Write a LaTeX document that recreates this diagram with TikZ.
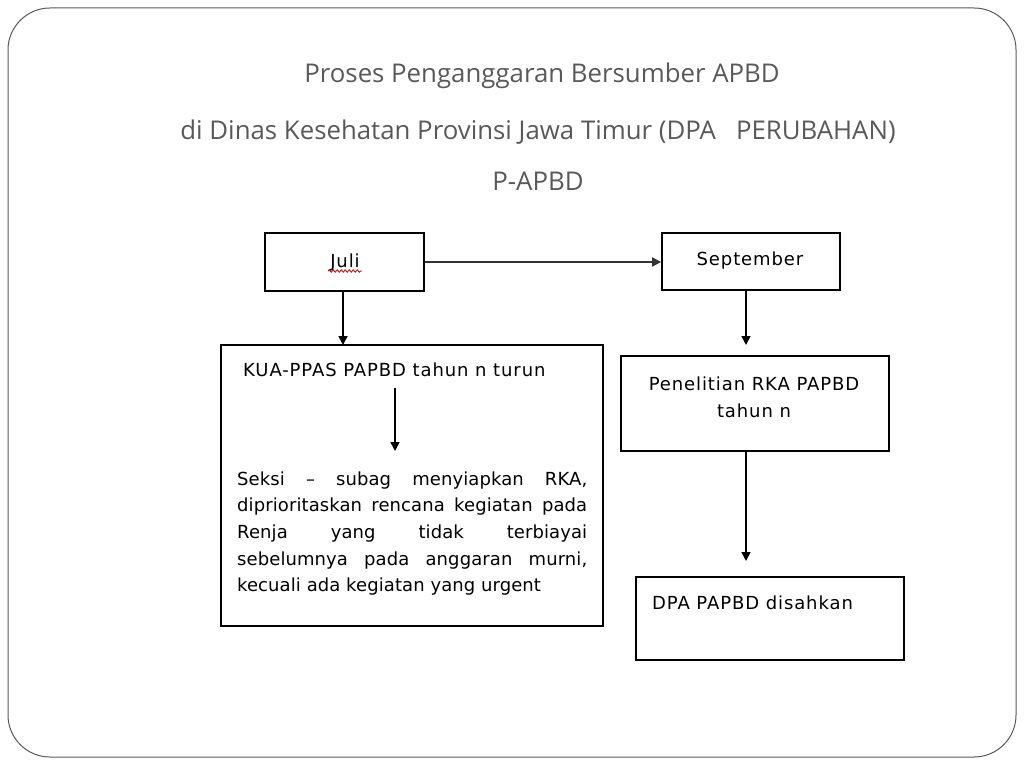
\documentclass[tikz,border=0pt]{standalone}
\usepackage{fontspec}
\setmainfont{DejaVu Sans}[LetterSpace=5]
\newfontfamily\parafont{DejaVu Sans}[LetterSpace=0.5]
\newfontfamily\titlefont{Open Sans}
\usetikzlibrary{arrows.meta,decorations.pathmorphing}
\begin{document}
\begin{tikzpicture}[x=1pt,y=-1pt,
  box/.style={draw=black,line width=1.8pt,inner sep=0pt},
  txt/.style={inner sep=0pt,font=\fontsize{18}{26.7}\selectfont,anchor=base},
  ttl/.style={inner sep=0pt,anchor=base,font=\titlefont\fontsize{25.8}{30}\selectfont,text=black!65},
  arr/.style={line width=1.6pt,-{Triangle[width=9pt,length=9pt]}}]
\useasboundingbox (0,0) rectangle (1024,768);
\draw[black!65,line width=1pt,rounded corners=42pt] (8,8) rectangle (1016,757);
% title
\node[ttl] (t1) at (542,82) {Proses Penganggaran Bersumber APBD};
\node[ttl] (t2) at (538,139) {di Dinas Kesehatan Provinsi Jawa Timur (DPA\ \ \ PERUBAHAN)};
\node[ttl] (t3) at (538,190) {P-APBD};
% boxes
\node[box,minimum width=159pt,minimum height=58pt] (juli) at (344.5,262) {};
\node[txt] (julit) at (345,267) {Juli};
\draw[red!75!black,line width=0.8pt,decorate,decoration={snake,amplitude=1.2pt,segment length=4pt}] (328,271) -- (362,271);
\node[box,minimum width=178pt,minimum height=57pt] (sep) at (751,261.5) {};
\node[txt] (sept) at (750,265) {September};
\node[box,minimum width=382pt,minimum height=281pt] (kua) at (412,485.5) {};
\node[txt,anchor=base west] (kuat) at (243,376) {KUA-PPAS PAPBD tahun n turun};
\node[txt,font=\parafont\fontsize{18}{26.7}\selectfont,anchor=base west,text width=350pt,align=justify] (seksi) at (237,485)
 {Seksi – subag menyiapkan RKA,\linebreak diprioritaskan rencana kegiatan pada\linebreak Renja yang tidak terbiayai\linebreak sebelumnya pada anggaran murni,\linebreak kecuali ada kegiatan yang urgent};
\node[box,minimum width=268pt,minimum height=95pt] (pen) at (755,403.5) {};
\node[txt] (pent1) at (754,390) {Penelitian RKA PAPBD};
\node[txt] (pent2) at (754,417) {tahun n};
\node[box,minimum width=268pt,minimum height=83pt] (dpa) at (770,618.5) {};
\node[txt,anchor=base west] (dpat) at (652,609) {DPA PAPBD disahkan};
% connectors
\coordinate (a1) at (395,388);
\coordinate (a2) at (395,451);
\coordinate (s2) at (746,345);
\coordinate (p2) at (746,561);
\draw[arr,black!80,line width=2pt] (juli.east |- 0,262) -- (sep.west |- 0,262);
\draw[arr] (343,291) -- (343,345);
\draw[arr] (sep.south -| s2) -- (s2);
\draw[arr] (pen.south -| p2) -- (p2);
\draw[arr] (a1) -- (a2);
\end{tikzpicture}
\end{document}
